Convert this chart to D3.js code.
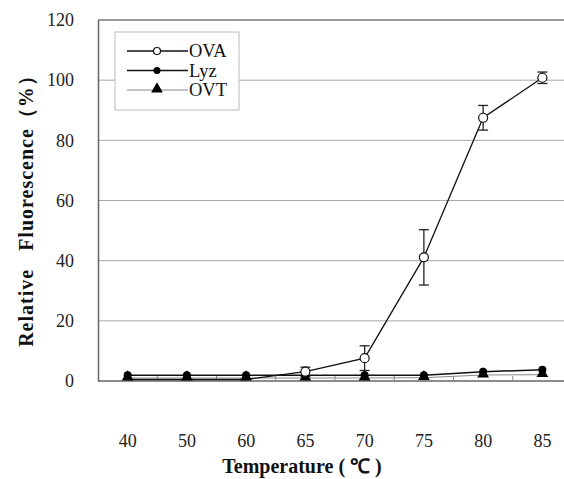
<!DOCTYPE html>
<html>
<head>
<meta charset="utf-8">
<script src="https://cdn.jsdelivr.net/npm/d3@7/dist/d3.min.js"></script>
<style>
  body { margin: 0; background: #fff; }
  svg text { font-family: "Liberation Serif", "Times New Roman", serif; }
</style>
</head>
<body>
<div id="chart"></div>
<script>
// Data
var temps = ["40", "50", "60", "65", "70", "75", "80", "85"];
var ova = [0.5, 0.5, 0.5, 3.1, 7.6, 41.1, 87.5, 100.8];
var ovaErr = [0, 0, 0, 1.5, 4.1, 9.2, 4.1, 1.9];
var lyz = [1.9, 1.9, 1.9, 1.9, 1.9, 1.9, 3.1, 3.7];
var ovt = [1.0, 1.0, 1.0, 1.0, 1.0, 1.1, 2.0, 2.1];
var yTicks = [0, 20, 40, 60, 80, 100, 120];

// Vars for viz sizing
var W = 564, H = 479;
var margin = {top: 20, right: 0, bottom: 98, left: 98};
var plotW = 474;
var plotH = H - margin.top - margin.bottom;

var svg = d3.select("#chart")
  .append("svg")
    .attr("width", W)
    .attr("height", H);

var g = svg.append("g")
  .attr("transform", "translate(" + margin.left + "," + margin.top + ")");

// Scales
var x = d3.scaleBand()
  .domain(temps)
  .range([0, plotW]);
var y = d3.scaleLinear()
  .domain([0, 120])
  .range([plotH, 0]);
var cx = function(i) { return x(temps[i]) + x.bandwidth() / 2; };

// Gridlines
g.append("g")
  .selectAll("line")
  .data(yTicks.filter(function(d) { return d > 0; }))
  .enter()
  .append("line")
    .attr("x1", 0)
    .attr("x2", W)
    .attr("y1", function(d) { return y(d); })
    .attr("y2", function(d) { return y(d); })
    .attr("stroke", function(d) { return d === 120 ? "#777" : "#a8a8a8"; })
    .attr("stroke-width", function(d) { return d === 120 ? 1.5 : 1; });

// Y axis
var yAxis = g.append("g")
  .call(d3.axisLeft(y).tickValues(yTicks).tickSize(0).tickPadding(24));
yAxis.attr("font-family", null);
yAxis.select(".domain").attr("stroke", "#666").attr("stroke-width", 1.5);
yAxis.selectAll("text")
  .style("font-size", "18px")
  .attr("fill", "#222");

// X axis with inward ticks at category boundaries
var xAxisG = g.append("g")
  .attr("transform", "translate(0," + plotH + ")");
xAxisG.append("line")
  .attr("x1", 0).attr("x2", W)
  .attr("stroke", "#666").attr("stroke-width", 1.5);
xAxisG.selectAll(".bt")
  .data(temps.slice(1))
  .enter()
  .append("line")
    .attr("x1", function(d) { return x(d); })
    .attr("x2", function(d) { return x(d); })
    .attr("y1", 0).attr("y2", -5)
    .attr("stroke", "#888");
xAxisG.selectAll(".lab")
  .data(temps)
  .enter()
  .append("text")
    .attr("x", function(d) { return x(d) + x.bandwidth() / 2; })
    .attr("y", 66)
    .attr("text-anchor", "middle")
    .style("font-size", "18px")
    .attr("fill", "#222")
    .text(function(d) { return d; });

// Line generator
var line = d3.line()
  .x(function(d, i) { return cx(i); })
  .y(function(d) { return y(d); });

// OVT line (thin gray)
g.append("path").datum(ovt)
  .attr("fill", "none").attr("stroke", "#888").attr("stroke-width", 1)
  .attr("d", line);
// Lyz line
g.append("path").datum(lyz)
  .attr("fill", "none").attr("stroke", "#111").attr("stroke-width", 1.5)
  .attr("d", line);
// OVA line
g.append("path").datum(ova)
  .attr("fill", "none").attr("stroke", "#111").attr("stroke-width", 1.3)
  .attr("d", line);

// OVA error bars
var eb = g.append("g").attr("stroke", "#222").attr("stroke-width", 1.3);
ova.forEach(function(v, i) {
  if (!ovaErr[i]) return;
  var x0 = cx(i), y1 = y(v + ovaErr[i]), y2 = y(v - ovaErr[i]);
  eb.append("line").attr("x1", x0).attr("x2", x0).attr("y1", y1).attr("y2", y2);
  eb.append("line").attr("x1", x0 - 5).attr("x2", x0 + 5).attr("y1", y1).attr("y2", y1);
  eb.append("line").attr("x1", x0 - 5).attr("x2", x0 + 5).attr("y1", y2).attr("y2", y2);
});

// Markers
var tri = d3.symbol().type(d3.symbolTriangle).size(60);
g.append("g").selectAll("path")
  .data(ovt).enter().append("path")
    .attr("d", tri)
    .attr("transform", function(d, i) { return "translate(" + cx(i) + "," + (y(d) - 1) + ")"; })
    .attr("fill", "#000");
g.append("g").selectAll("circle")
  .data(lyz).enter().append("circle")
    .attr("cx", function(d, i) { return cx(i); })
    .attr("cy", function(d) { return y(d); })
    .attr("r", 4)
    .attr("fill", "#000");
g.append("g").selectAll("circle")
  .data(ova).enter().append("circle")
    .attr("cx", function(d, i) { return cx(i); })
    .attr("cy", function(d) { return y(d); })
    .attr("r", 4.5)
    .attr("fill", "#fff")
    .attr("stroke", "#111")
    .attr("stroke-width", 1.2)
    .attr("display", function(d) { return d < 1 ? "none" : null; });

// Legend
var legendNames = ["OVA", "Lyz", "OVT"];
var leg = svg.append("g").attr("transform", "translate(115,32)");
leg.append("rect")
  .attr("width", 124).attr("height", 78)
  .attr("fill", "#fff").attr("stroke", "#bbb");
legendNames.forEach(function(name, i) {
  var ly = 19 + i * 19.5;
  leg.append("line")
    .attr("x1", 12).attr("x2", 73).attr("y1", ly).attr("y2", ly)
    .attr("stroke", i === 2 ? "#888" : "#111")
    .attr("stroke-width", i === 2 ? 1 : 1.3);
  if (i === 0) {
    leg.append("circle").attr("cx", 42).attr("cy", ly).attr("r", 3.5)
      .attr("fill", "#fff").attr("stroke", "#111").attr("stroke-width", 1.2);
  } else if (i === 1) {
    leg.append("circle").attr("cx", 42).attr("cy", ly).attr("r", 3.5).attr("fill", "#000");
  } else {
    leg.append("path").attr("d", tri).attr("transform", "translate(42," + (ly - 1) + ")").attr("fill", "#000");
  }
  leg.append("text")
    .attr("x", 74).attr("y", ly + 6)
    .style("font-size", "18.5px")
    .attr("fill", "#111")
    .text(name);
});

// Axis titles
svg.append("text")
  .attr("transform", "translate(33,206) rotate(-90)")
  .attr("text-anchor", "middle")
  .style("font-size", "20px")
  .style("font-weight", "bold")
  .style("letter-spacing", "1px")
  .style("white-space", "pre")
  .attr("fill", "#111")
  .text("Relative   Fluorescence（%）");

svg.append("text")
  .attr("x", 302).attr("y", 473)
  .attr("text-anchor", "middle")
  .style("font-size", "20px")
  .style("font-weight", "bold")
  .attr("fill", "#111")
  .text("Temperature ( ℃ )");
</script>
</body>
</html>
